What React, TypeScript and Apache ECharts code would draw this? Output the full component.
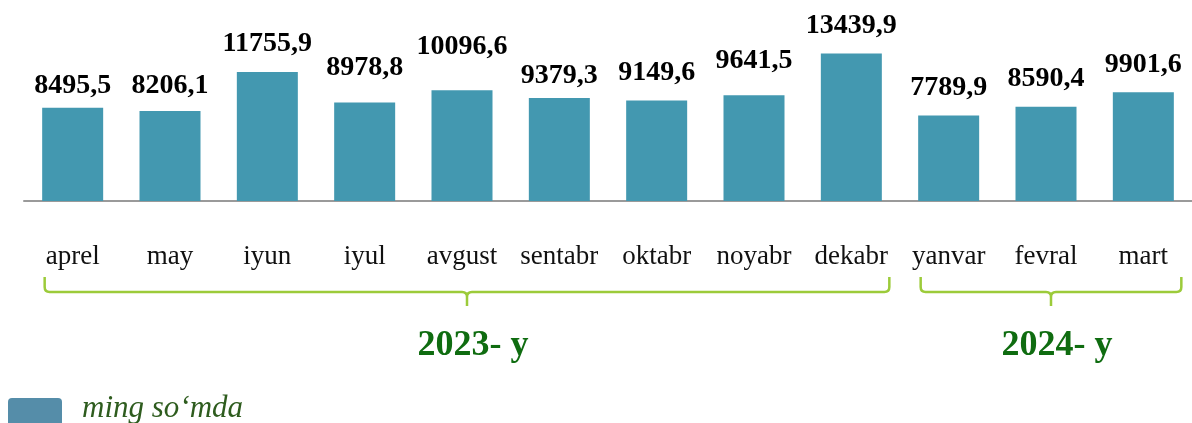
import React, { useEffect, useRef } from "react";
import * as echarts from "echarts";

const months = ["aprel", "may", "iyun", "iyul", "avgust", "sentabr", "oktabr", "noyabr", "dekabr", "yanvar", "fevral", "mart"];
const values = [8495.5, 8206.1, 11755.9, 8978.8, 10096.6, 9379.3, 9149.6, 9641.5, 13439.9, 7789.9, 8590.4, 9901.6];
const yearGroups = [
  { label: "2023- y", from: 0, to: 8 },
  { label: "2024- y", from: 9, to: 11 },
];
const unitLabel = "ming so‘mda";

// hand-placed label lifts (px above each bar), as in the source layout
const labelLift = [10, 13, 16, 23, 32, 11, 16, 23, 16, 16, 16, 16];

const BAR = "#4398b0";
const BRACE = "#9ccb3a";
const YEAR = "#0f6c10";

function bracePath(x1: number, x2: number, m: number, yTop: number, yLine: number, yTip: number) {
  const r = 5;
  return [
    `M ${x1} ${yTop}`,
    `L ${x1} ${yLine - r}`,
    `Q ${x1} ${yLine} ${x1 + r} ${yLine}`,
    `L ${m - r} ${yLine}`,
    `Q ${m} ${yLine} ${m} ${yLine + r}`,
    `L ${m} ${yTip}`,
    `M ${m} ${yLine + r}`,
    `Q ${m} ${yLine} ${m + r} ${yLine}`,
    `L ${x2 - r} ${yLine}`,
    `Q ${x2} ${yLine} ${x2} ${yLine - r}`,
    `L ${x2} ${yTop}`,
  ].join(" ");
}

export default function App() {
  const ref = useRef<HTMLDivElement>(null);
  useEffect(() => {
    if (!ref.current) return;
    const chart = echarts.init(ref.current, undefined, { renderer: "svg" });
    chart.setOption({
      animation: false,
      grid: { left: 24, right: -3, top: 10, bottom: 222 },
      xAxis: {
        type: "category",
        data: months,
        axisLine: { show: true, lineStyle: { color: "#9a9a9a", width: 2 } },
        axisTick: { show: false },
        axisLabel: {
          margin: 40,
          fontFamily: "Liberation Serif",
          fontSize: 27,
          color: "#111",
          interval: 0,
        },
      },
      yAxis: { type: "value", min: 0, max: 17400, show: false, splitLine: { show: false } },
      series: [
        {
          type: "bar",
          data: values.map((v, i) => ({ value: v, label: { distance: labelLift[i] } })),
          barWidth: 61,
          itemStyle: { color: BAR },
          label: {
            show: true,
            position: "top",
            distance: 8,
            fontFamily: "Liberation Serif",
            fontWeight: "bold",
            fontSize: 28,
            color: "#000",
            formatter: (p: any) => Number(p.value).toFixed(1).replace(".", ","),
          },
        },
      ],
    });

    const graphics: any[] = [];
    yearGroups.forEach((g, i) => {
      const c0 = chart.convertToPixel({ xAxisIndex: 0 }, g.from) as number;
      const c1 = chart.convertToPixel({ xAxisIndex: 0 }, g.to) as number;
      const x1 = c0 - 28;
      const x2 = c1 + 38;
      const m = (x1 + x2) / 2;
      const name = "brace" + i;
      echarts.graphic.registerShape(name, echarts.graphic.extendPath(bracePath(x1, x2, m, 277, 292, 306), {}) as any);
      graphics.push({
        type: name,
        x: 0,
        y: 0,
        style: { fill: "none", stroke: BRACE, lineWidth: 2.5 },
      });
      graphics.push({
        type: "text",
        x: m + 6,
        y: 343,
        style: {
          text: g.label,
          fontFamily: "Liberation Serif",
          fontWeight: "bold",
          fontSize: 36,
          fill: YEAR,
          align: "center",
          verticalAlign: "middle",
        },
      });
    });
    graphics.push({
      type: "rect",
      shape: { x: 8, y: 398, width: 54, height: 34, r: 4 },
      style: { fill: "#558da9" },
    });
    graphics.push({
      type: "text",
      x: 82,
      y: 406,
      style: {
        text: unitLabel,
        fontFamily: "Liberation Serif",
        fontStyle: "italic",
        fontSize: 31,
        fill: "#2e5c1e",
        align: "left",
        verticalAlign: "middle",
      },
    });
    chart.setOption({ graphic: graphics });
    return () => chart.dispose();
  }, []);
  return <div ref={ref} style={{ position: "fixed", left: 0, top: 0, width: 1192, height: 423 }} />;
}
